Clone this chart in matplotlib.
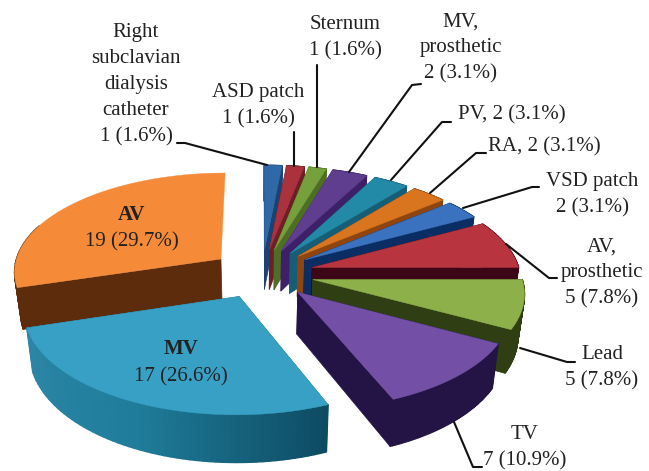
import numpy as np
import matplotlib
matplotlib.use("Agg")
import matplotlib.pyplot as plt
from matplotlib.colors import to_rgb

counts = [1, 1, 1, 2, 2, 2, 2, 5, 5, 7, 17, 19]
faces = ['#2f69a8', '#a9323c', '#76a03c', '#5f3e90', '#2289a6', '#d9751f',
         '#3a72bf', '#b8343f', '#8db04a', '#7350a5', '#38a0c4', '#f58b38']
walls = ['#1b4272', '#6d1f26', '#4f6e25', '#3e2068', '#165d75', '#8e4510',
         '#0a2d63', '#3d0616', '#2f3f13', '#241446', '#1f7d9b', '#5c2c0c']
labels = ['Right\nsubclavian\ndialysis\ncatheter\n1 (1.6%)', 'ASD patch\n1 (1.6%)',
          'Sternum\n1 (1.6%)', 'MV,\nprosthetic\n2 (3.1%)', 'PV, 2 (3.1%)', 'RA, 2 (3.1%)',
          'VSD patch\n2 (3.1%)', 'AV,\nprosthetic\n5 (7.8%)', 'Lead\n5 (7.8%)',
          'TV\n7 (10.9%)', 'MV\n17 (26.6%)', 'AV\n19 (29.7%)']

# label layout, pixels of the picture
label_pos = [(136, 85), (258, 106), (345, 38), (461, 48), (512, 115), (544, 147),
             (592, 195), (602, 273), (602, 368), (525, 448), (181, 363), (132, 228)]
leader_pts = [[(177, 143), (185, 143), (267, 165)], [(294, 132), (294, 166)], [(317, 65), (317, 167)],
              [(421, 84), (412, 85), (349, 172)], [(451, 122), (442, 122), (391, 180)],
              [(486, 153), (476, 153), (430, 193)], [(539, 187), (532, 187), (463, 208)],
              [(557, 278), (549, 278), (506, 244)], [(575, 362), (567, 362), (520, 348)],
              [(482, 467), (473, 467), (454, 422)], None, None]

cx, cy = 262, 273.5
rx, ry = 208, 99
persp = 0.115
explode = 0.25
depth = 41
shrink = 0.975
font = 'Liberation Serif'


def top(X, Y):
    w = 1 + persp * Y
    return cx + rx * X / w, cy - ry * Y / w


def bottom(X, Y):
    w = 1 + persp * Y
    sx, sy = top(X, Y)
    return cx + (sx - cx) * shrink, sy + depth / w


def lerp(c1, c2, t):
    a, b = np.array(to_rgb(c1)), np.array(to_rgb(c2))
    return tuple(a + (b - a) * t)


fig = plt.figure(figsize=(6.49, 4.71), dpi=100)
ax = fig.add_axes([0, 0, 1, 1])
ax.set_xlim(0, 649)
ax.set_ylim(471, 0)
ax.axis('off')

edges = np.cumsum([0] + counts) / sum(counts) * 2 * np.pi

# AV and MV go first, the small slices lie in front of them
order = [11, 10] + list(range(10))
for n, i in enumerate(order):
    a0, a1 = edges[i], edges[i + 1]
    mid = (a0 + a1) / 2
    ox, oy = explode * np.sin(mid), explode * np.cos(mid)
    t = np.linspace(a0, a1, 60)
    X = ox + np.sin(t)
    Y = oy + np.cos(t)
    tx, ty = top(X, Y)
    bx, by = bottom(X, Y)
    ax0, ay0 = top(ox, oy)
    bx0, by0 = bottom(ox, oy)
    # walls along the two cut edges, the back edge of AV does not show
    for j in (0, -1):
        if i == 11 and j == -1:
            continue
        ax.fill([ax0, tx[j], bx[j], bx0], [ay0, ty[j], by[j], by0],
                color=walls[i], lw=0.5, zorder=n + 1)
    # outer wall, MV one goes dark to the right
    for j in range(len(t) - 1):
        if i == 11 and t[j] > np.radians(290):
            continue
        c = walls[i]
        if i == 10:
            f = j / (len(t) - 2)
            c = lerp('#0e4b63', '#1f7d9b', f * 2) if f < 0.5 else lerp('#1f7d9b', '#2d86a6', (f - 0.5) * 2)
        ax.fill([tx[j], tx[j + 1], bx[j + 1], bx[j]], [ty[j], ty[j + 1], by[j + 1], by[j]],
                color=c, lw=1, zorder=n + 1)
    ax.fill(np.r_[ax0, tx], np.r_[ay0, ty], color=faces[i], lw=0.3, zorder=n + 1.5)

for i in range(12):
    if leader_pts[i] is not None:
        ax.plot([p[0] for p in leader_pts[i]], [p[1] for p in leader_pts[i]], color='#111111',
                lw=1.5, zorder=20, solid_capstyle='round')
    if i >= 10:
        # first line of the two big slices is heavier
        name, rest = labels[i].split('\n')
        ax.text(label_pos[i][0], label_pos[i][1] - 13.5, name, ha='center', va='center', fontsize=15,
                family=font, fontweight='bold', color='#222222', zorder=30)
        ax.text(label_pos[i][0], label_pos[i][1] + 13.5, rest, ha='center', va='center', fontsize=15,
                family=font, color='#222222', zorder=30)
    else:
        ax.text(label_pos[i][0], label_pos[i][1], labels[i], ha='center', va='center', fontsize=15,
                family=font, color='#222222', linespacing=1.5, zorder=30)

fig.savefig('out.png', dpi=100)
